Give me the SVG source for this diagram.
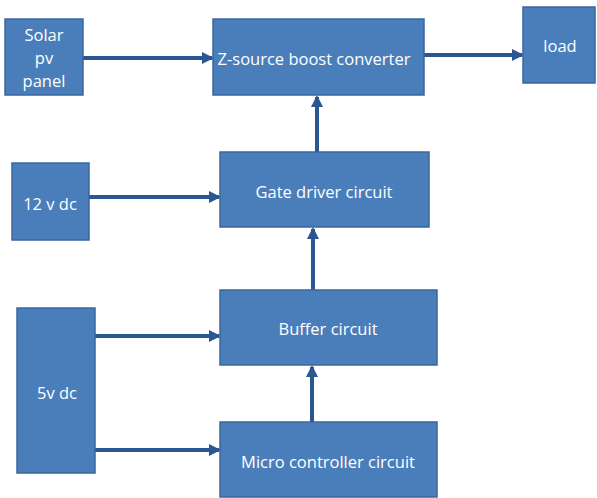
<svg xmlns="http://www.w3.org/2000/svg" width="597" height="498" viewBox="0 0 597 498">
<style>
.box{fill:#4a7ebb;stroke:#3a679e;stroke-width:1.5}
.lbl{fill:#ffffff;font-family:"Open Sans","Liberation Sans",sans-serif;font-size:16.5px;text-anchor:middle;dominant-baseline:central}
.con{stroke:#2c5690;stroke-width:4;fill:none}
</style>
<defs>
<marker id="ah" viewBox="0 0 6 6" refX="5" refY="3" markerWidth="3" markerHeight="3" orient="auto" markerUnits="strokeWidth">
<path d="M0,0 L6,3 L0,6 Z" fill="#2c5690"/>
</marker>
</defs>
<rect width="597" height="498" fill="#ffffff"/>
<g id="connectors">
<line class="con" x1="83" y1="58" x2="212" y2="58" marker-end="url(#ah)"/>
<line class="con" x1="424" y1="55" x2="522" y2="55" marker-end="url(#ah)"/>
<line class="con" x1="317" y1="152" x2="317" y2="97" marker-end="url(#ah)"/>
<line class="con" x1="89" y1="197" x2="219" y2="197" marker-end="url(#ah)"/>
<line class="con" x1="313" y1="290" x2="313" y2="229" marker-end="url(#ah)"/>
<line class="con" x1="95" y1="336" x2="219" y2="336" marker-end="url(#ah)"/>
<line class="con" x1="95" y1="450" x2="219" y2="450" marker-end="url(#ah)"/>
<line class="con" x1="312" y1="422" x2="312" y2="367" marker-end="url(#ah)"/>
</g>
<g id="solar">
<rect class="box" x="5" y="19" width="78" height="76"/>
<text class="lbl" x="44" y="34">Solar</text>
<text class="lbl" x="44" y="57">pv</text>
<text class="lbl" x="44" y="80">panel</text>
</g>
<g id="zsource">
<rect class="box" x="213" y="19" width="211" height="76"/>
<text class="lbl" x="314" y="58">Z-source boost converter</text>
</g>
<g id="load">
<rect class="box" x="523" y="7" width="72" height="76"/>
<text class="lbl" x="560" y="45">load</text>
</g>
<g id="gate">
<rect class="box" x="220" y="152" width="209" height="75"/>
<text class="lbl" x="324" y="191">Gate driver circuit</text>
</g>
<g id="v12">
<rect class="box" x="12" y="163" width="77" height="77"/>
<text class="lbl" x="50" y="203">12 v dc</text>
</g>
<g id="buffer">
<rect class="box" x="220" y="290" width="217" height="75"/>
<text class="lbl" x="328" y="328">Buffer circuit</text>
</g>
<g id="v5">
<rect class="box" x="17" y="308" width="78" height="165"/>
<text class="lbl" x="57" y="392">5v dc</text>
</g>
<g id="micro">
<rect class="box" x="220" y="422" width="217" height="75"/>
<text class="lbl" x="328" y="461">Micro controller circuit</text>
</g>
</svg>
